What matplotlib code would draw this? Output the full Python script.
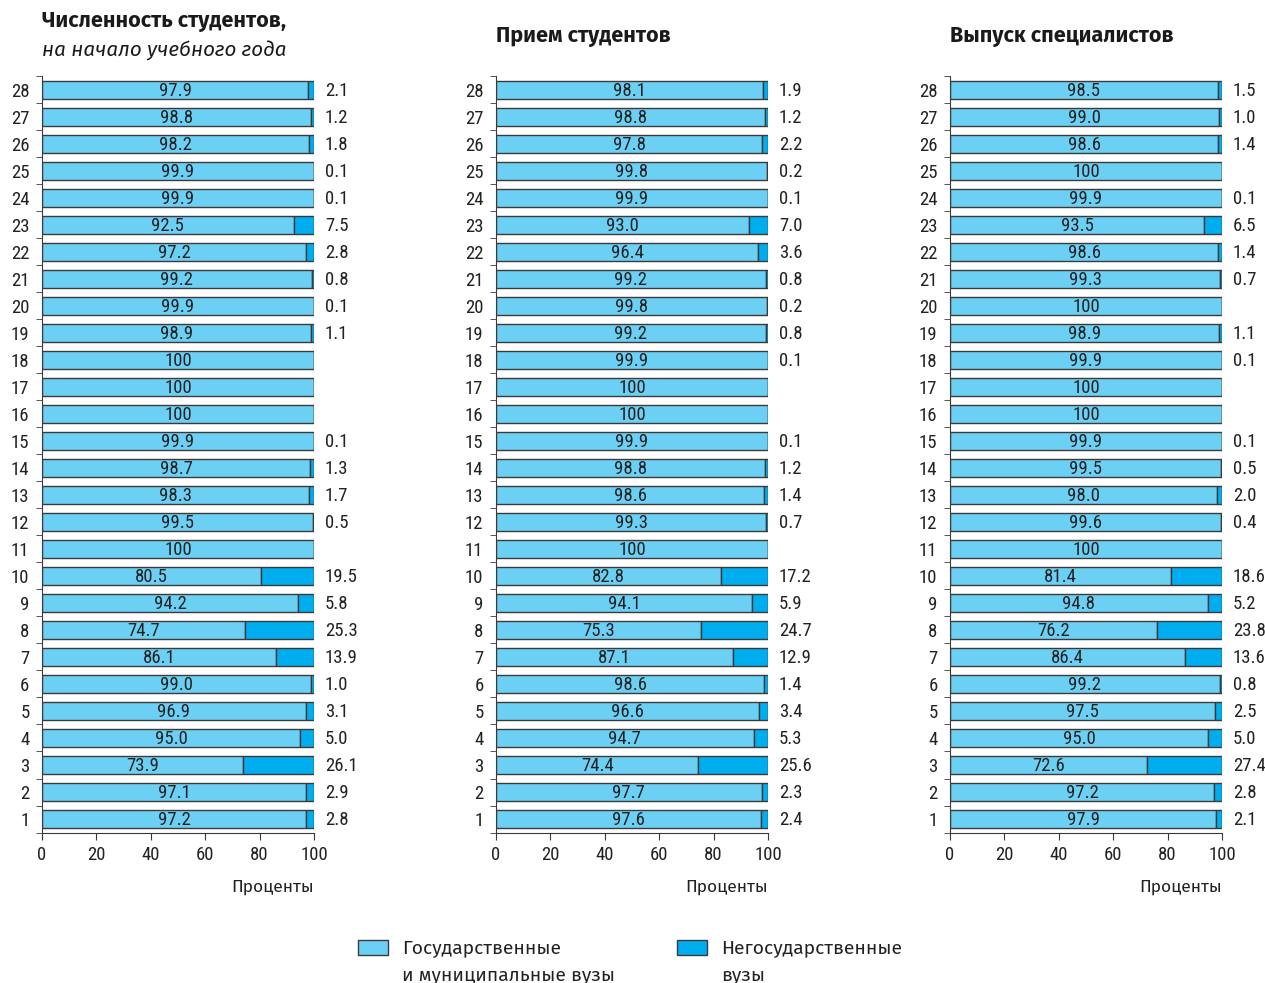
import numpy as np
import matplotlib.pyplot as plt
from matplotlib.patches import Rectangle

# rows listed top-down, from 28 to 1
rows = list(range(28, 0, -1))

enrol_state = [97.9, 98.8, 98.2, 99.9, 99.9, 92.5, 97.2, 99.2, 99.9, 98.9,
               100, 100, 100, 99.9, 98.7, 98.3, 99.5, 100, 80.5, 94.2,
               74.7, 86.1, 99.0, 96.9, 95.0, 73.9, 97.1, 97.2]
enrol_private = [2.1, 1.2, 1.8, 0.1, 0.1, 7.5, 2.8, 0.8, 0.1, 1.1,
                 None, None, None, 0.1, 1.3, 1.7, 0.5, None, 19.5, 5.8,
                 25.3, 13.9, 1.0, 3.1, 5.0, 26.1, 2.9, 2.8]

admit_state = [98.1, 98.8, 97.8, 99.8, 99.9, 93.0, 96.4, 99.2, 99.8, 99.2,
               99.9, 100, 100, 99.9, 98.8, 98.6, 99.3, 100, 82.8, 94.1,
               75.3, 87.1, 98.6, 96.6, 94.7, 74.4, 97.7, 97.6]
admit_private = [1.9, 1.2, 2.2, 0.2, 0.1, 7.0, 3.6, 0.8, 0.2, 0.8,
                 0.1, None, None, 0.1, 1.2, 1.4, 0.7, None, 17.2, 5.9,
                 24.7, 12.9, 1.4, 3.4, 5.3, 25.6, 2.3, 2.4]

grad_state = [98.5, 99.0, 98.6, 100, 99.9, 93.5, 98.6, 99.3, 100, 98.9,
              99.9, 100, 100, 99.9, 99.5, 98.0, 99.6, 100, 81.4, 94.8,
              76.2, 86.4, 99.2, 97.5, 95.0, 72.6, 97.2, 97.9]
grad_private = [1.5, 1.0, 1.4, None, 0.1, 6.5, 1.4, 0.7, None, 1.1,
                0.1, None, None, 0.1, 0.5, 2.0, 0.4, None, 18.6, 5.2,
                23.8, 13.6, 0.8, 2.5, 5.0, 27.4, 2.8, 2.1]

xticks = [0, 20, 40, 60, 80, 100]
legend_lines = [["Государственные", "и муниципальные вузы"], ["Негосударственные", "вузы"]]
xlabel = "Проценты"

c_state = "#6cd0f5"
c_private = "#00adee"
edge = "#3a3a3a"
ink = "#222222"
numfont = ["Roboto Condensed", "DejaVu Sans"]
txtfont = ["Fira Sans", "DejaVu Sans"]
nfs = 13.5

fig = plt.figure(figsize=(12.65, 9.83), dpi=100)

panels = [
    (0.0332, enrol_state, enrol_private),
    (0.3921, admit_state, admit_private),
    (0.7510, grad_state, grad_private),
]

for left, state, priv in panels:
    ax = fig.add_axes([left, 0.1531, 0.215, 0.7691])
    y = np.array(rows)
    pv = np.array([p if p is not None else 0 for p in priv])
    ax.barh(y, state, height=0.68, color=c_state, edgecolor=edge, linewidth=1)
    ax.barh(y, pv, left=state, height=0.68, color=c_private, edgecolor=edge, linewidth=1)
    for yi, s, p in zip(y, state, priv):
        lab = "100" if s == 100 else f"{s:.1f}"
        ax.text(s / 2, yi - 0.04, lab, ha="center", va="center", fontsize=nfs, family=numfont, color=ink)
        if p is not None:
            ax.text(104, yi - 0.04, f"{p:.1f}", ha="left", va="center", fontsize=nfs, family=numfont,
                    color=ink, clip_on=False)
    ax.set_xlim(0, 100)
    ax.set_ylim(0.5, 28.5)
    ax.set_yticks(y)
    ax.set_yticklabels([str(r) for r in rows], family=numfont, fontsize=nfs, color=ink)
    ax.set_yticks(np.arange(0.5, 29, 1), minor=True)
    ax.tick_params(axis="y", which="major", length=0, pad=9)
    ax.tick_params(axis="y", which="minor", length=4, color=edge)
    ax.set_xticks(xticks)
    ax.set_xticklabels([str(t) for t in xticks], family=numfont, fontsize=nfs, color=ink)
    ax.tick_params(axis="x", length=5, color=edge, pad=5)
    for side in ["top", "right"]:
        ax.spines[side].set_visible(False)
    for side in ["left", "bottom"]:
        ax.spines[side].set_color(edge)
    ax.text(100, -1.52, xlabel, ha="right", va="center", fontsize=12.5, family=txtfont, color=ink)

fig.text(0.0332, 0.978, "Численность студентов,", ha="left", va="center",
         fontsize=15.5, fontweight="bold", family=txtfont, color="#1a1a1a")
fig.text(0.0332, 0.949, "на начало учебного года", ha="left", va="center",
         fontsize=14.8, style="italic", family=txtfont, color="#1a1a1a")
fig.text(0.3921, 0.963, "Прием студентов", ha="left", va="center",
         fontsize=15.5, fontweight="bold", family=txtfont, color="#1a1a1a")
fig.text(0.7510, 0.963, "Выпуск специалистов", ha="left", va="center",
         fontsize=15.5, fontweight="bold", family=txtfont, color="#1a1a1a")

# legend swatches and labels
for (px, tx), col, lines in zip([(0.283, 0.3178), (0.5352, 0.570)], [c_state, c_private], legend_lines):
    fig.add_artist(Rectangle((px, 0.0285), 0.0237, 0.0153, transform=fig.transFigure,
                             facecolor=col, edgecolor=edge, linewidth=1))
    for k, line in enumerate(lines):
        fig.text(tx, 0.0356 - k * 0.0275, line, ha="left", va="center", fontsize=13.8,
                 family=txtfont, color=ink)

fig.savefig("out.png", dpi=100)
